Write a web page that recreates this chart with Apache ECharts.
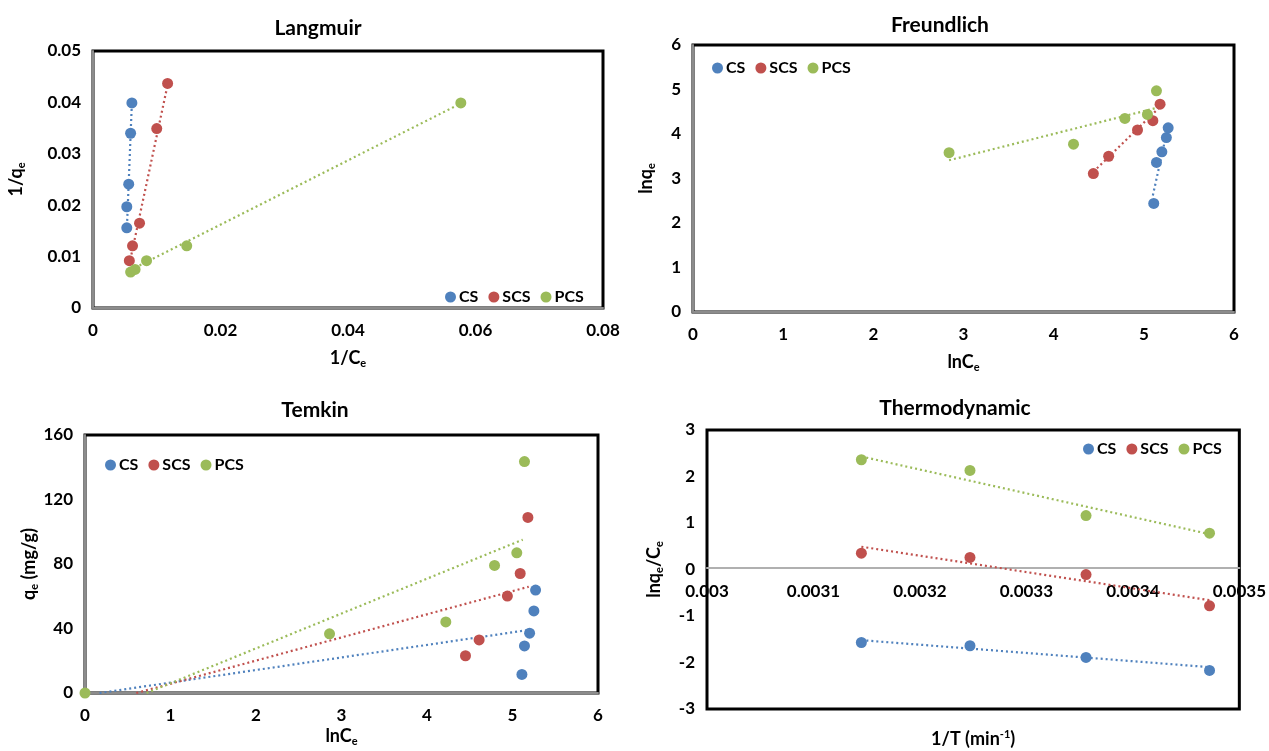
<!DOCTYPE html>
<html>
<head>
<meta charset="utf-8">
<title>Isotherms</title>
<script src="https://cdn.jsdelivr.net/npm/echarts@6/dist/echarts.min.js"></script>
<style>
  html, body { margin: 0; padding: 0; background: #fff; }
  #chart { width: 1269px; height: 751px; }
</style>
</head>
<body>
<div id="chart"></div>
<script>
// series names
var names = ['CS', 'SCS', 'PCS'];
var colors = ['#4F81BD', '#C0504D', '#9BBB59'];

// Langmuir: 1/Ce vs 1/qe
var langCsX = [0.0053, 0.0053, 0.0056, 0.0059, 0.0061];
var langCsY = [0.0156, 0.0197, 0.0241, 0.0340, 0.0399];
var langScsX = [0.0057, 0.0062, 0.0073, 0.0100, 0.0117];
var langScsY = [0.0092, 0.0121, 0.0165, 0.0349, 0.0437];
var langPcsX = [0.0059, 0.0066, 0.0084, 0.0147, 0.0577];
var langPcsY = [0.0070, 0.0075, 0.0092, 0.0121, 0.0399];
// trendline end points
var langFitX = [[0.0053, 0.0061], [0.0057, 0.0117], [0.0059, 0.0577]];
var langFitY = [[0.0150, 0.0400], [0.0085, 0.0434], [0.0074, 0.0398]];

// Freundlich: lnCe vs lnqe
var freCsX = [5.11, 5.14, 5.20, 5.25, 5.27];
var freCsY = [2.44, 3.36, 3.60, 3.92, 4.14];
var freScsX = [4.44, 4.61, 4.93, 5.10, 5.18];
var freScsY = [3.11, 3.50, 4.09, 4.30, 4.67];
var frePcsX = [2.84, 4.22, 4.79, 5.04, 5.14];
var frePcsY = [3.58, 3.77, 4.35, 4.44, 4.97];
var freFitX = [[5.10, 5.26], [4.44, 5.18], [2.84, 5.13]];
var freFitY = [[2.62, 4.09], [3.15, 4.61], [3.41, 4.58]];

// Temkin: lnCe vs qe
var temCsX = [5.11, 5.14, 5.20, 5.25, 5.27];
var temCsY = [11.5, 29.2, 37.1, 50.9, 63.8];
var temScsX = [4.45, 4.61, 4.94, 5.09, 5.18];
var temScsY = [23.1, 32.9, 60.1, 74.1, 108.9];
var temPcsX = [0, 2.86, 4.22, 4.79, 5.05, 5.14];
var temPcsY = [0, 36.7, 44.1, 79.1, 86.9, 143.5];
var temFitX = [[0.17, 5.19], [0.60, 5.19], [0.72, 5.12]];
var temFitY = [[0, 39.1], [0, 65.9], [0, 95.1]];

// Thermodynamic: 1/T vs ln(qe/Ce)
var thermoX = [0.003145, 0.003247, 0.003356, 0.003472];
var thermoCsY = [-1.57, -1.64, -1.89, -2.17];
var thermoScsY = [0.35, 0.26, -0.11, -0.78];
var thermoPcsY = [2.36, 2.13, 1.16, 0.78];
var thermoFitX = [[0.003145, 0.003472], [0.003145, 0.003472], [0.003145, 0.003472]];
var thermoFitY = [[-1.52, -2.10], [0.49, -0.66], [2.43, 0.76]];

var FONT = 'Lato';

function zip(xs, ys) {
  return xs.map(function (x, i) { return [x, ys[i]]; });
}

var panels = [
  { title: 'Langmuir', tx: 313, ty: 13,
    grid: { left: 93, top: 51, width: 510, height: 257 },
    x: { min: 0, max: 0.08, interval: 0.02 }, y: { min: 0, max: 0.05, interval: 0.01 },
    xName: '1/C{sub|e}', xGap: 40, yName: '1/q{sub|e}', yGap: 66,
    pts: [[langCsX, langCsY], [langScsX, langScsY], [langPcsX, langPcsY]],
    fitX: langFitX, fitY: langFitY,
    legend: { left: 440, top: 284 } },
  { title: 'Freundlich', tx: 935, ty: 10,
    grid: { left: 693, top: 45, width: 541, height: 267 },
    x: { min: 0, max: 6, interval: 1 }, y: { min: 0, max: 6, interval: 1 },
    xName: 'lnC{sub|e}', xGap: 40, yName: 'lnq{sub|e}', yGap: 36,
    pts: [[freCsX, freCsY], [freScsX, freScsY], [frePcsX, frePcsY]],
    fitX: freFitX, fitY: freFitY,
    legend: { left: 707, top: 55 } },
  { title: 'Temkin', tx: 310, ty: 395,
    grid: { left: 85, top: 435, width: 513, height: 258 },
    x: { min: 0, max: 6, interval: 1 }, y: { min: 0, max: 160, interval: 40 },
    xName: 'lnC{sub|e}', xGap: 33, yName: 'q{sub|e} (mg/g)', yGap: 42,
    pts: [[temCsX, temCsY], [temScsX, temScsY], [temPcsX, temPcsY]],
    fitX: temFitX, fitY: temFitY,
    legend: { left: 100, top: 452 } },
  { title: 'Thermodynamic', tx: 950, ty: 393,
    grid: { left: 707, top: 430, width: 537, height: 283 },
    x: { min: 0.003, max: 0.0035, interval: 0.0001 }, y: { min: -3, max: 3, interval: 1 },
    xName: '1/T (min{sup|-1})', xGap: 20, yName: 'lnq{sub|e}/C{sub|e}', yGap: 42,
    pts: [[thermoX, thermoCsY], [thermoX, thermoScsY], [thermoX, thermoPcsY]],
    fitX: thermoFitX, fitY: thermoFitY,
    legend: { left: 1078, top: 436 } }
];

var richName = {
  sub: { fontFamily: FONT, fontWeight: 'bold', fontSize: 11, color: '#000', verticalAlign: 'top', padding: [10, 0, 0, 0] },
  sup: { fontFamily: FONT, fontWeight: 'bold', fontSize: 11, color: '#000', verticalAlign: 'top' }
};
var nameStyle = { fontFamily: FONT, fontWeight: 'bold', fontSize: 18, color: '#000', lineHeight: 21, rich: richName };

var option = {
  animation: false,
  backgroundColor: '#fff',
  title: [], grid: [], xAxis: [], yAxis: [], legend: [], series: []
};

panels.forEach(function (p, gi) {
  option.title.push({
    text: p.title, left: p.tx, top: p.ty, textAlign: 'center',
    textStyle: { fontFamily: FONT, fontWeight: 'bold', fontSize: 21, color: '#000' }
  });
  option.grid.push(Object.assign({ show: true, borderColor: '#000', borderWidth: 3, backgroundColor: '#fff' }, p.grid));

  var isThermo = gi === 3;
  option.xAxis.push({
    type: 'value', gridIndex: gi, min: p.x.min, max: p.x.max, interval: p.x.interval,
    position: 'bottom',
    // thermodynamic axis sits on the zero line, in the middle of the -3..3 range
    offset: isThermo ? -p.grid.height / 2 : 0,
    name: isThermo ? '' : p.xName, nameLocation: 'middle', nameGap: p.xGap, nameTextStyle: nameStyle,
    axisLine: { show: true, onZero: false, lineStyle: { color: isThermo ? '#b0b0b0' : '#8c8c8c', width: 2 } },
    axisTick: { show: false },
    axisLabel: { margin: isThermo ? 16 : 14, fontFamily: FONT, fontWeight: 'bold', fontSize: 17, color: '#000' },
    splitLine: { show: false }
  });
  option.yAxis.push({
    type: 'value', gridIndex: gi, min: p.y.min, max: p.y.max, interval: p.y.interval,
    name: p.yName, nameLocation: 'middle', nameGap: p.yGap, nameRotate: 90, nameTextStyle: nameStyle,
    axisLine: { show: !isThermo, lineStyle: { color: '#8c8c8c', width: 2 } },
    axisTick: { show: false },
    axisLabel: { margin: 12, fontFamily: FONT, fontWeight: 'bold', fontSize: 17, color: '#000' },
    splitLine: { show: false }
  });

  option.legend.push({
    left: p.legend.left, top: p.legend.top, orient: 'horizontal',
    data: names, icon: 'circle', itemWidth: 11, itemHeight: 11, itemGap: 10,
    textStyle: { fontFamily: FONT, fontWeight: 'bold', fontSize: 16, color: '#000', padding: [0, 0, 0, -2] },
    selectedMode: false
  });

  p.pts.forEach(function (xy, si) {
    option.series.push({
      name: names[si] + ' fit', type: 'line', xAxisIndex: gi, yAxisIndex: gi,
      data: zip(p.fitX[si], p.fitY[si]), symbol: 'none', silent: true,
      lineStyle: { color: colors[si], width: 2.2, type: [2, 3] }, z: 2
    });
  });
  p.pts.forEach(function (xy, si) {
    option.series.push({
      name: names[si], type: 'scatter', xAxisIndex: gi, yAxisIndex: gi,
      data: zip(xy[0], xy[1]), symbol: 'circle', symbolSize: 11,
      itemStyle: { color: colors[si], opacity: 1 }, z: 3
    });
  });
});

// bottom axis only for the Thermodynamic x title
option.xAxis.push({
  type: 'value', gridIndex: 3, min: 0.003, max: 0.0035, position: 'bottom',
  name: panels[3].xName, nameLocation: 'middle', nameGap: panels[3].xGap, nameTextStyle: nameStyle,
  axisLine: { show: false, onZero: false }, axisTick: { show: false }, axisLabel: { show: false }, splitLine: { show: false }
});

var chart = echarts.init(document.getElementById('chart'), null, { renderer: 'canvas' });
chart.setOption(option);
</script>
</body>
</html>
